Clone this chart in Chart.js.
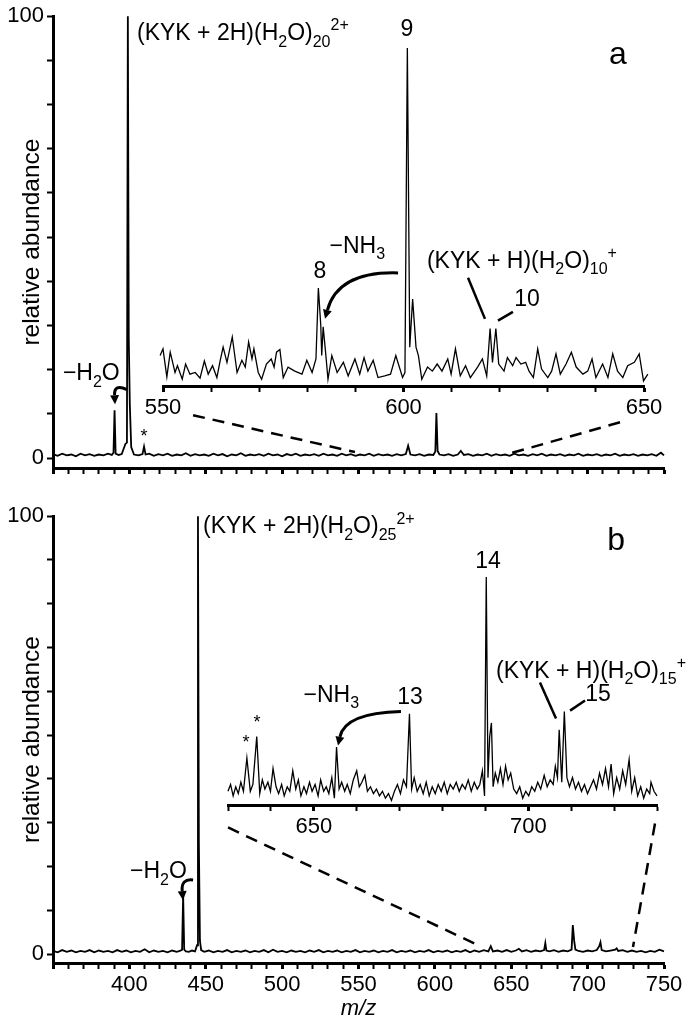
<!DOCTYPE html>
<html><head><meta charset="utf-8">
<script src="https://cdn.jsdelivr.net/npm/chart.js@4.4.1/dist/chart.umd.min.js"></script>
<style>
html,body{margin:0;padding:0;background:#fff;}
#wrap{position:relative;width:696px;height:1024px;overflow:hidden;}
canvas{position:absolute;left:0;}
</style></head><body>
<div id="wrap">
<canvas id="cA" width="696" height="500" style="top:0px"></canvas>
<canvas id="cAi" width="696" height="500" style="top:0px"></canvas>
<canvas id="cB" width="696" height="524" style="top:500px"></canvas>
<canvas id="cBi" width="696" height="524" style="top:500px"></canvas>
</div>
<script>
// ---------------- DATA ----------------
// Panel a, full spectrum (m/z, relative abundance %)
const mainA_mz = [350,353,356,359,362,365,368,371,374,377,
 380,383,386,388.5,389.6,390.3,391,393,395,397.4,
 398.4,399,399.6,400.3,401.2,403,406,408.6,409.6,410.6,
 413,416,419,422,425,428,431,434,437,440,
 443,446,449,452,455,458,461,464,467,470,
 473,476,479,482,485,488,491,494,497,500,
 503,506,509,512,515,518,521,524,527,530,
 533,536,539,542,545,548,551,554,557,560,
 563,566,569,572,575,578,581,582.5,584,587,
 590,593,596,599,600.3,601,601.8,603,606,609,
 612,615,617,619,622,625,628,631,634,637,
 640,643,646,649,652,655,658,661,664,667,
 670,673,676,679,682,685,688,691,694,697,
 700,703,706,709,712,715,718,721,724,727,
 730,733,736,739,742,745,748,750];
const mainA_ab = [0.9,0.5,1.0,0.6,0.8,0.4,1.0,0.6,0.9,0.5,
 0.8,0.6,1.0,0.7,1.2,10.8,1.0,0.7,0.9,3.2,
 3.5,100,27,12,2.5,0.8,0.6,0.9,2.6,0.8,
 1.0,0.5,0.9,0.6,1.0,0.5,0.8,0.6,1.1,0.5,
 0.9,0.6,0.8,0.5,1.0,0.6,0.9,0.4,0.8,0.6,
 1.1,0.5,0.8,0.6,0.9,0.5,1.0,0.6,0.8,0.4,
 0.9,0.6,1.0,0.5,0.8,0.6,0.9,0.5,1.0,0.6,
 0.8,0.5,1.0,0.6,0.9,0.5,0.8,0.6,1.0,0.5,
 0.9,0.6,0.8,0.5,0.9,0.6,0.9,2.8,0.8,0.6,
 0.9,0.5,0.8,0.7,1.5,10.2,1.6,0.8,0.6,0.9,
 0.5,0.8,1.6,0.7,0.9,0.5,0.8,0.6,1.0,0.5,
 0.9,0.6,0.8,0.5,1.0,0.6,0.8,0.5,0.9,0.6,
 1.0,0.5,0.8,0.6,0.9,0.5,0.8,0.6,1.0,0.5,
 0.8,0.6,0.9,0.5,0.8,0.6,1.0,0.5,0.8,0.6,
 0.9,0.5,0.8,0.6,0.9,0.5,1.2,0.6];

// Panel a, inset (m/z 550-650, scaled so peak 9 = 100)
const insetA_mz = [549.4,550,550.8,551.5,552.5,553,554,554.7,555.6,556.7,
 557.7,558.6,559.4,560.3,561.2,561.9,562.5,563.3,564.4,565.4,
 566.4,567.1,567.8,568.5,568.9,569.8,570.5,571.5,572.5,573.1,
 573.6,574.3,575,576,577.4,578.9,579.9,581,581.8,582.3,
 582.8,583,583.3,583.8,584.3,585.1,586.2,587.5,588.5,589.9,
 590.9,591.8,592.6,593.7,594.7,596.1,597.3,598.4,599.8,600.3,
 600.8,601.3,601.9,602.6,603.1,603.8,605,606,607,608,
 609.2,609.9,610.8,611.8,612.9,613.9,615.4,616.4,617.3,618,
 618.5,619.2,619.8,620.9,621.6,622.7,623.4,624.4,625.4,626.1,
 627,627.9,628.7,630,630.8,631.7,632.6,633.8,634.9,635.9,
 637.3,638.3,639.2,640,641.4,642.5,643.5,644.5,645.6,646.6,
 648,649,649.9,650.8];
const insetA_ab = [9,11,2.7,10,4,6,2,6.5,3.5,4,
 2.3,7.4,3.5,6,2.5,7.6,11.5,7,14.5,4,
 7.6,5.6,13,8,11,4,2,6.5,8,5.6,
 10,10.8,2.5,5.6,4.4,3.5,7.6,4,8,29,
 18,9,17.5,10,2,9,4,7,3,8,
 3.5,8.4,4.4,7.6,2.5,3,3.5,9,2.5,4,
 100,11.5,25.7,11.5,9,2,5.6,4.4,6.5,4.4,
 8,3.5,11,3,6,2.5,5.6,8,3,17,
 7,17,6.5,4.4,8.4,6,8.4,6.5,7,4.4,
 2.5,11,5,2.5,4.4,9.5,3.5,6.5,10,5.6,
 3.5,4.4,8,2.5,6.5,2.5,9.5,4.4,2.5,6,
 7,9.5,1.5,3.5];

// Panel b, full spectrum
const mainB_mz = [350,353,356,359,362,365,368,371,374,377,
 380,383,386,389,392,395,398,401,404,407,
 410,413,416,419,422,425,428,431,433,434.5,
 435.2,435.9,437,439,441,443,444.3,444.9,445.5,446.2,
 447,449,452,455,458,461,464,467,470,473,
 476,479,482,485,488,491,494,497,500,503,
 506,509,512,515,518,521,524,527,530,533,
 536,539,542,545,548,551,554,557,560,563,
 566,569,572,575,578,581,584,587,590,593,
 596,599,602,605,608,611,614,617,620,623,
 626,629,632,635,636.6,638,641,644,647,650,
 653,655,657,660,663,666,669,671.5,672.3,673,
 675,678,681,684,687,689.5,690.3,691.2,692,694,
 697,700,703,706,707.6,708.4,709.2,712,715,718,
 719,720,723,726,729,732,735,738,741,744,
 747,750];
const mainB_ab = [0.7,0.4,0.9,0.5,0.8,0.4,0.7,0.5,0.9,0.4,
 0.8,0.5,0.7,0.4,0.9,0.5,0.8,0.4,0.7,0.5,
 1.1,0.4,0.8,0.5,0.7,0.4,0.8,0.5,0.7,1.0,
 13.4,1.0,0.6,0.5,0.8,0.6,2.0,100,25,3.0,
 0.9,0.5,0.8,0.4,0.7,0.5,0.9,0.4,0.7,0.5,
 0.8,0.4,0.7,0.5,0.9,0.4,1.0,0.5,0.7,0.4,
 0.8,0.5,0.7,0.4,0.8,0.5,0.9,0.4,0.7,0.5,
 0.8,0.4,0.7,0.5,0.9,0.4,0.7,0.5,0.8,0.4,
 0.7,0.5,0.9,0.4,0.7,0.5,0.8,0.4,0.7,0.5,
 0.9,0.4,0.7,0.5,0.8,0.4,0.7,0.5,0.9,0.4,
 0.8,0.5,0.9,0.6,1.8,0.6,0.8,0.5,0.9,0.5,
 0.8,1.2,0.6,0.9,0.5,0.8,0.6,0.9,2.5,0.8,
 0.6,0.9,0.5,0.8,0.6,1.0,6.6,3.0,1.0,0.7,
 0.5,0.8,0.6,0.9,1.8,2.7,0.9,0.6,0.8,1.0,
 1.3,0.7,0.9,0.5,0.8,0.5,0.7,0.4,0.7,0.5,
 1.0,0.6];

// Panel b, inset (m/z 630-730, scaled so peak 14 = 100)
const insetB_mz = [630,630.6,631.2,631.8,632.4,633,633.6,634.4,635.2,635.8,
 636.7,637.4,638,638.6,639.3,639.9,640.5,641.2,641.8,642.5,
 643.1,643.8,644.4,645.1,645.8,646.4,647,647.7,648.3,649,
 649.6,650.3,651,651.6,652.3,652.9,653.5,654.2,654.8,655.3,
 655.9,656.5,657.2,657.8,658.5,659.2,660,660.6,661.2,661.9,
 662.5,663.2,663.9,664.6,665.3,666,666.7,667.4,668.1,668.8,
 669.5,670.2,670.9,671.6,672.3,672.8,673.4,674.1,674.8,675.5,
 676.2,676.9,677.6,678.3,679,679.7,680.4,681.1,681.8,682.5,
 683.2,683.9,684.6,685.3,686,686.7,687.4,688.1,688.7,689.3,
 689.8,690.2,690.6,691,691.4,691.8,692.3,692.9,693.5,694.1,
 694.7,695.3,695.9,696.6,697.3,698,698.7,699.4,700.1,700.8,
 701.5,702.2,702.9,703.7,704.4,705.1,705.8,706.3,706.8,707.2,
 707.8,708.4,709,709.6,710.3,711,711.7,712.4,713.1,713.8,
 714.5,715.2,715.9,716.6,717.3,718,718.7,719.3,719.9,720.6,
 721.3,722,722.7,723.5,724.1,724.8,725.5,726.2,726.9,727.6,
 728.3,728.6,729.3,730];
const insetB_ab = [6,9,4,8,5,10,6,20.6,6,9,
 30,5,11,7,10,6,16,8,5,9,
 4,8,6,15,7,11,4,8,5,10,
 6,9,4,11,6,8,5,12,3,25.4,
 7,10,6,9,5,11,15,8,10,13,
 6,8,5,7,4,6,3,5,2,6,
 9,5,11,8,40,7,12,6,9,5,
 10,4,8,5,9,6,10,5,9,7,
 10,6,9,7,11,6,10,7,9,15,
 4,100,12,30,36,8,14,10,16,9,
 17,11,14,7,5,8,3,6,4,8,
 6,10,7,13,8,11,9,17,12,33,
 10,41,12,8,12,7,10,6,9,5,
 8,11,7,14,9,16,8,18,5,12,
 7,15,9,20,6,12,4,8,3,7,
 5,10,6,4];

// Tick labels
const mainXLabels = [400,450,500,550,600,650,700,750];
const mainYLabels = [0,100];
const insetALabels = [550,600,650];
const insetBLabels = [650,700];

// ---------------- DRAWING ----------------
const FAM = "'Liberation Sans', Arial, Helvetica, sans-serif";
const fontStr = (sz, st) => (st ? st + ' ' : '') + sz + 'px ' + FAM;
const pts = (mz, ab) => mz.map((m, i) => ({x: m, y: ab[i]}));

function drawRich(ctx, px, py, segs, size, align, middle) {
  const small = Math.round(size * 0.68);
  const parts = segs.map(s => {
    if (s[0] === '_') return {k: 'sub', t: s.slice(1)};
    if (s[0] === '^') return {k: 'sup', t: s.slice(1)};
    return {k: 'n', t: s};
  });
  let w = 0;
  for (const p of parts) {
    ctx.font = fontStr(p.k === 'n' ? size : small);
    p.w = ctx.measureText(p.t).width; w += p.w;
  }
  let x = align === 'center' ? px - w / 2 : px;
  const y = middle ? py + size * 0.36 : py;
  ctx.textAlign = 'left'; ctx.textBaseline = 'alphabetic'; ctx.fillStyle = '#000';
  for (const p of parts) {
    ctx.font = fontStr(p.k === 'n' ? size : small);
    const dy = p.k === 'sub' ? size * 0.28 : (p.k === 'sup' ? -size * 0.42 : 0);
    ctx.fillText(p.t, x, y + dy);
    x += p.w;
  }
}

function annotPlugin(list) {
  return {
    id: 'annots',
    afterDatasetsDraw(chart) {
      const ctx = chart.ctx, xs = chart.scales.x, ys = chart.scales.y;
      const P = (v) => [xs.getPixelForValue(v[0]), ys.getPixelForValue(v[1])];
      ctx.save();
      ctx.strokeStyle = '#000'; ctx.fillStyle = '#000'; ctx.lineCap = 'butt';
      for (const a of list) {
        if (a.type === 'text') {
          const p = P(a.at);
          drawRich(ctx, p[0], p[1], a.segs, a.size || 23, a.align || 'left', !!a.middle);
        } else if (a.type === 'line') {
          const p1 = P(a.from), p2 = P(a.to);
          ctx.setLineDash(a.dash || []);
          ctx.lineWidth = a.width || 2.5;
          ctx.beginPath(); ctx.moveTo(p1[0], p1[1]); ctx.lineTo(p2[0], p2[1]); ctx.stroke();
          ctx.setLineDash([]);
        } else if (a.type === 'arrow') {
          const s = P(a.from), c = P(a.ctrl), e = P(a.to);
          const ang = Math.atan2(e[1] - c[1], e[0] - c[0]);
          const L = 9, W = 4.5;
          const bx = e[0] - L * Math.cos(ang), by = e[1] - L * Math.sin(ang);
          ctx.lineWidth = 3;
          ctx.beginPath(); ctx.moveTo(s[0], s[1]); ctx.quadraticCurveTo(c[0], c[1], bx, by); ctx.stroke();
          ctx.beginPath();
          ctx.moveTo(e[0], e[1]);
          ctx.lineTo(bx - W * Math.sin(ang), by + W * Math.cos(ang));
          ctx.lineTo(bx + W * Math.sin(ang), by - W * Math.cos(ang));
          ctx.closePath(); ctx.fill();
        }
      }
      ctx.restore();
    }
  };
}

function xAxis(min, max, labels, h, tl, withTitle) {
  return {
    type: 'linear', min: min, max: max,
    ticks: {stepSize: 10, autoSkip: false, maxRotation: 0, minRotation: 0, padding: 3,
      font: {family: FAM, size: 22}, color: '#000',
      callback: (v) => labels.includes(v) ? String(v) : ''},
    grid: {display: true, drawOnChartArea: false, drawTicks: true, tickLength: tl, tickColor: '#000',
      tickWidth: (c) => (c.tick && c.tick.value % 50 === 0) ? 3 : 2},
    border: {display: true, color: '#000', width: 3},
    title: {display: !!withTitle, text: 'm/z', color: '#000',
      font: {family: FAM, size: 22, style: 'italic'}, padding: {top: 0, bottom: 2}},
    afterFit: (s) => { s.height = h; }
  };
}

function mainChart(id, mz, ab, cfg) {
  return new Chart(document.getElementById(id), {
    type: 'line',
    data: {datasets: [{data: pts(mz, ab), borderColor: '#000', borderWidth: 1.8,
      pointRadius: 0, tension: 0, clip: false, fill: false}]},
    options: {
      responsive: false, animation: false, devicePixelRatio: 1,
      layout: {padding: {left: 0, top: cfg.top, right: 32, bottom: 0}},
      plugins: {legend: {display: false}, tooltip: {enabled: false}, title: {display: false}},
      scales: {
        x: xAxis(350, 750, cfg.xLabels, cfg.xh, 6, cfg.xTitle),
        y: {type: 'linear', min: -cfg.yOff, max: 100,
          ticks: {stepSize: 10, includeBounds: false, autoSkip: false, padding: 3,
            font: {family: FAM, size: 22}, color: '#000',
            callback: (v) => mainYLabels.includes(v) ? String(v) : ''},
          grid: {display: true, drawOnChartArea: false, drawTicks: true, tickLength: 6, tickColor: '#000', tickWidth: 2},
          border: {display: true, color: '#000', width: 3},
          title: {display: true, text: 'relative abundance', color: '#000',
            font: {family: FAM, size: 24.5}, padding: {top: 18, bottom: 0}},
          afterFit: (s) => { s.width = 53; }
        }
      }
    },
    plugins: [annotPlugin(cfg.annots)]
  });
}

function insetChart(id, mz, ab, cfg) {
  return new Chart(document.getElementById(id), {
    type: 'line',
    data: {datasets: [{data: pts(mz, ab), borderColor: '#000', borderWidth: 1.3,
      pointRadius: 0, tension: 0, clip: false, fill: false}]},
    options: {
      responsive: false, animation: false, devicePixelRatio: 1,
      layout: {padding: {left: cfg.left, top: cfg.top, right: cfg.right, bottom: 0}},
      plugins: {legend: {display: false}, tooltip: {enabled: false}},
      scales: {
        x: xAxis(cfg.min, cfg.max, cfg.labels, cfg.xh, 6, false),
        y: {type: 'linear', min: 0, max: 100, display: false}
      }
    }
  });
}

const annA = [
  {type: 'text', at: [405.0, 94.6], segs: ['(KYK + 2H)(H', '_2', 'O)', '_20', '^2+']},
  {type: 'text', at: [581.7, 97.3], segs: ['9'], align: 'center', middle: true},
  {type: 'text', at: [719.9, 91.9], segs: ['a'], size: 32, align: 'center', middle: true},
  {type: 'text', at: [531.0, 46.4], segs: ['\u2212NH', '_3']},
  {type: 'text', at: [524.8, 42.6], segs: ['8'], align: 'center', middle: true},
  {type: 'text', at: [594.8, 43.0], segs: ['(KYK + H)(H', '_2', 'O)', '_10', '^+']},
  {type: 'line', from: [621.7, 40.8], to: [632.8, 31.5]},
  {type: 'text', at: [660.3, 36.3], segs: ['10'], align: 'center', middle: true},
  {type: 'line', from: [641.3, 31.1], to: [651.1, 33.1]},
  {type: 'text', at: [356.5, 17.6], segs: ['\u2212H', '_2', 'O']},
  {type: 'arrow', from: [398.4, 15.5], ctrl: [389.9, 16.9], to: [390.6, 12.2]},
  {type: 'text', at: [409.6, 5.0], segs: ['*'], size: 18, align: 'center', middle: true},
  {type: 'arrow', from: [575.9, 41.9], ctrl: [536.6, 42.3], to: [528.1, 31.5]},
  {type: 'line', from: [441.7, 9.7], to: [547.7, 1.35], dash: [12, 8], width: 2.5},
  {type: 'line', from: [721.2, 8.1], to: [649.8, 1.1], dash: [12, 8], width: 2.5}
];

const annB = [
  {type: 'text', at: [448.2, 96.1], segs: ['(KYK + 2H)(H', '_2', 'O)', '_25', '^2+']},
  {type: 'text', at: [718.6, 95.0], segs: ['b'], size: 32, align: 'center', middle: true},
  {type: 'text', at: [634.8, 90.0], segs: ['14'], align: 'center', middle: true},
  {type: 'text', at: [640.0, 63.1], segs: ['(KYK + H)(H', '_2', 'O)', '_15', '^+']},
  {type: 'line', from: [668.8, 62.0], to: [679.3, 53.8]},
  {type: 'text', at: [706.8, 59.7], segs: ['15'], align: 'center', middle: true},
  {type: 'line', from: [688.5, 55.6], to: [698.3, 57.9]},
  {type: 'text', at: [583.7, 59.0], segs: ['13'], align: 'center', middle: true},
  {type: 'text', at: [514.0, 57.6], segs: ['\u2212NH', '_3']},
  {type: 'arrow', from: [577.8, 55.4], ctrl: [541.2, 55.1], to: [536.6, 47.6]},
  {type: 'text', at: [476.4, 48.5], segs: ['*'], size: 18, align: 'center', middle: true},
  {type: 'text', at: [483.6, 53.1], segs: ['*'], size: 18, align: 'center', middle: true},
  {type: 'text', at: [400.4, 17.3], segs: ['\u2212H', '_2', 'O']},
  {type: 'arrow', from: [441.7, 16.9], ctrl: [433.8, 17.3], to: [435.1, 12.3]},
  {type: 'line', from: [464.6, 28.9], to: [628.2, 2.05], dash: [12, 8], width: 2.5},
  {type: 'line', from: [744.1, 29.8], to: [729.7, 1.6], dash: [12, 8], width: 2.5}
];

mainChart('cA', mainA_mz, mainA_ab, {top: 14, xh: 32, yOff: 2.25, xLabels: [], xTitle: false, annots: annA});
insetChart('cAi', insetA_mz, insetA_ab, {left: 163, right: 52, top: 48, xh: 114, min: 550, max: 650, labels: insetALabels});
mainChart('cB', mainB_mz, mainB_ab, {top: 15, xh: 61, yOff: 2.05, xLabels: mainXLabels, xTitle: true, annots: annB});
insetChart('cBi', insetB_mz, insetB_ab, {left: 228, right: 39, top: 77, xh: 219, min: 630, max: 730, labels: insetBLabels});
</script>
</body></html>
